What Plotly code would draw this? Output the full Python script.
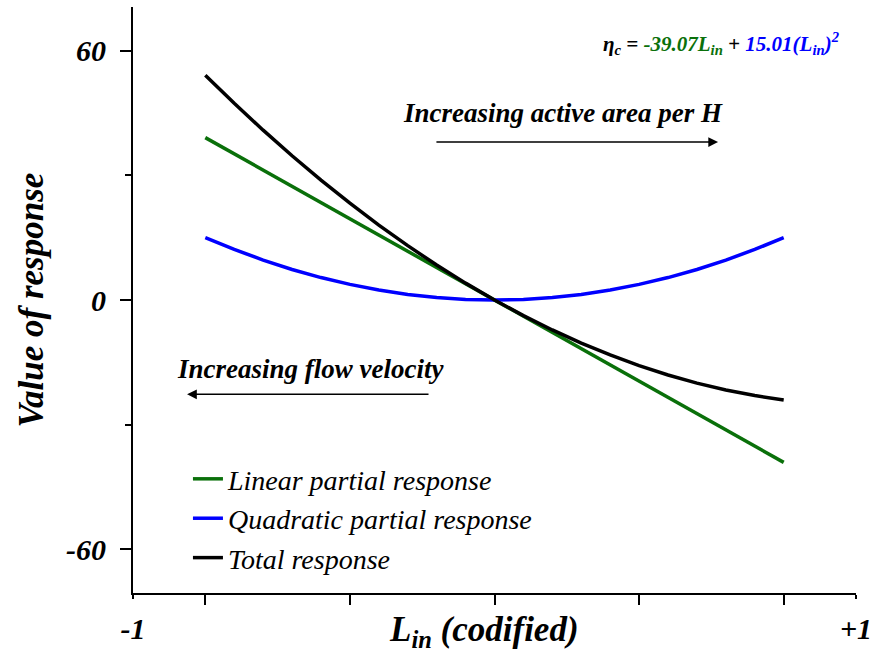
import plotly.graph_objects as go

# Coded input level L_in and the partial responses of eta_c
L_in = [-1.0, -0.9, -0.8, -0.7, -0.6, -0.5, -0.4, -0.3, -0.2, -0.1, 0.0,
        0.1, 0.2, 0.3, 0.4, 0.5, 0.6, 0.7, 0.8, 0.9, 1.0]
linear_part = [39.07, 35.16, 31.26, 27.35, 23.44, 19.54, 15.63, 11.72, 7.81, 3.91, 0.0,
               -3.91, -7.81, -11.72, -15.63, -19.54, -23.44, -27.35, -31.26, -35.16, -39.07]
quadratic_part = [15.01, 12.16, 9.61, 7.35, 5.40, 3.75, 2.40, 1.35, 0.60, 0.15, 0.0,
                  0.15, 0.60, 1.35, 2.40, 3.75, 5.40, 7.35, 9.61, 12.16, 15.01]
total_response = [54.08, 47.32, 40.86, 34.70, 28.85, 23.29, 18.03, 13.07, 8.41, 4.06, 0.0,
                  -3.76, -7.21, -10.37, -13.23, -15.78, -18.04, -19.99, -21.65, -23.00, -24.06]

series_names = ["Linear partial response", "Quadratic partial response", "Total response"]
series_colors = ["#0a700a", "#0000ff", "#000000"]

x_tick_vals = [-1.25, 1.25]
x_tick_text = ["-1", "+1"]
y_tick_vals = [-60, 0, 60]
y_tick_text = ["-60", "0", "60"]

SERIF = "Liberation Serif"

fig = go.Figure()
for name, ys, col in zip(series_names, [linear_part, quadratic_part, total_response], series_colors):
    fig.add_trace(go.Scatter(x=L_in, y=ys, mode="lines", name=name,
                             line=dict(color=col, width=3.5)))

tick_font = dict(family=SERIF, size=30, color="black", weight="bold", style="italic")
title_font = dict(family=SERIF, size=35, color="black", weight="bold", style="italic")
xr = [-1.25, 1.25]
yr = [-70.5, 70.5]

fig.update_layout(
    width=871, height=654,
    margin=dict(l=133, r=15, t=7, b=61, autoexpand=False),
    paper_bgcolor="white", plot_bgcolor="white",
    xaxis=dict(range=xr, showgrid=False, zeroline=False, showline=True,
               linecolor="black", linewidth=2, automargin=False,
               tickmode="array", tickvals=x_tick_vals, ticktext=x_tick_text,
               ticks="outside", ticklen=4, tickwidth=2, tickcolor="black",
               tickfont=tick_font, ticklabelstandoff=4, ticklabeloverflow="allow",
               minor=dict(tickmode="array", tickvals=[-1, -0.5, 0, 0.5, 1],
                          ticks="outside", ticklen=10, tickwidth=2, tickcolor="black",
                          showgrid=False)),
    xaxis3=dict(range=xr, overlaying="x", anchor="y", side="bottom",
                showgrid=False, zeroline=False, showline=False, automargin=False,
                tickmode="array", tickvals=[-0.75, -0.25, 0.25, 0.75],
                ticks="outside", ticklen=6, tickwidth=2, tickcolor="black",
                showticklabels=False),
    xaxis2=dict(range=xr, overlaying="x", anchor="y", side="top",
                showgrid=False, zeroline=False, showline=True, automargin=False,
                linecolor="black", linewidth=2,
                tickmode="array", tickvals=[-0.897, -0.543, -0.190, 0.164],
                ticks="inside", ticklen=5, tickwidth=2, tickcolor="black",
                showticklabels=False),
    yaxis=dict(range=yr, showgrid=False, zeroline=False, showline=True,
               linecolor="black", linewidth=2, automargin=False,
               tickmode="array", tickvals=y_tick_vals, ticktext=y_tick_text,
               ticks="outside", ticklen=11, tickwidth=2, tickcolor="black",
               tickfont=tick_font, ticklabelstandoff=8,
               minor=dict(tickmode="array", tickvals=[-30, 30],
                          ticks="outside", ticklen=6, tickwidth=2, tickcolor="black",
                          showgrid=False),
               title=dict(text="Value of response", font=title_font, standoff=12)),
    yaxis2=dict(range=yr, overlaying="y", anchor="x", side="right",
                showgrid=False, zeroline=False, showline=True, automargin=False,
                linecolor="black", linewidth=2,
                tickmode="array", tickvals=y_tick_vals,
                ticks="outside", ticklen=10, tickwidth=2, tickcolor="black",
                showticklabels=False,
                minor=dict(tickmode="array", tickvals=[-30, 30],
                           ticks="inside", ticklen=6, tickwidth=2, tickcolor="black",
                           showgrid=False)),
    legend=dict(x=0.076, y=0.237, xanchor="left", yanchor="top",
                bgcolor="rgba(0,0,0,0)", borderwidth=0,
                font=dict(family=SERIF, size=28, color="black", style="italic"),
                tracegroupgap=0),
    showlegend=True,
)

# x-axis title, sitting level with the end tick labels
fig.add_annotation(x=0.4855, y=-0.066, xref="paper", yref="paper", yanchor="middle",
                   text="L<sub>in</sub> (codified)", showarrow=False, font=title_font)

ann_font = dict(family=SERIF, size=27, color="black", weight="bold", style="italic")

eq_text = ("η<sub>c</sub> = <span style='color:#0a700a'>-39.07L<sub>in</sub></span> + "
           "<span style='color:#0000ff'>15.01(L<sub>in</sub>)<sup>2</sup></span>")
fig.add_annotation(x=0.783, y=61.7, xref="x", yref="y", text=eq_text, showarrow=False,
                   font=dict(family=SERIF, size=21, color="black", weight="bold", style="italic"))

fig.add_annotation(x=0.237, y=45.1, xref="x", yref="y", text="Increasing active area per H",
                   showarrow=False, font=ann_font)
fig.add_annotation(x=0.773, y=38.0, ax=-0.206, ay=38.0, xref="x", yref="y",
                   axref="x", ayref="y", text="", showarrow=True,
                   arrowhead=2, arrowsize=1.3, arrowwidth=1.5, arrowcolor="black")

fig.add_annotation(x=-0.635, y=-16.5, xref="x", yref="y", text="Increasing flow velocity",
                   showarrow=False, font=ann_font)
fig.add_annotation(x=-1.063, y=-22.7, ax=-0.223, ay=-22.7, xref="x", yref="y",
                   axref="x", ayref="y", text="", showarrow=True,
                   arrowhead=2, arrowsize=1.3, arrowwidth=1.5, arrowcolor="black")

fig.write_html("out.html")
